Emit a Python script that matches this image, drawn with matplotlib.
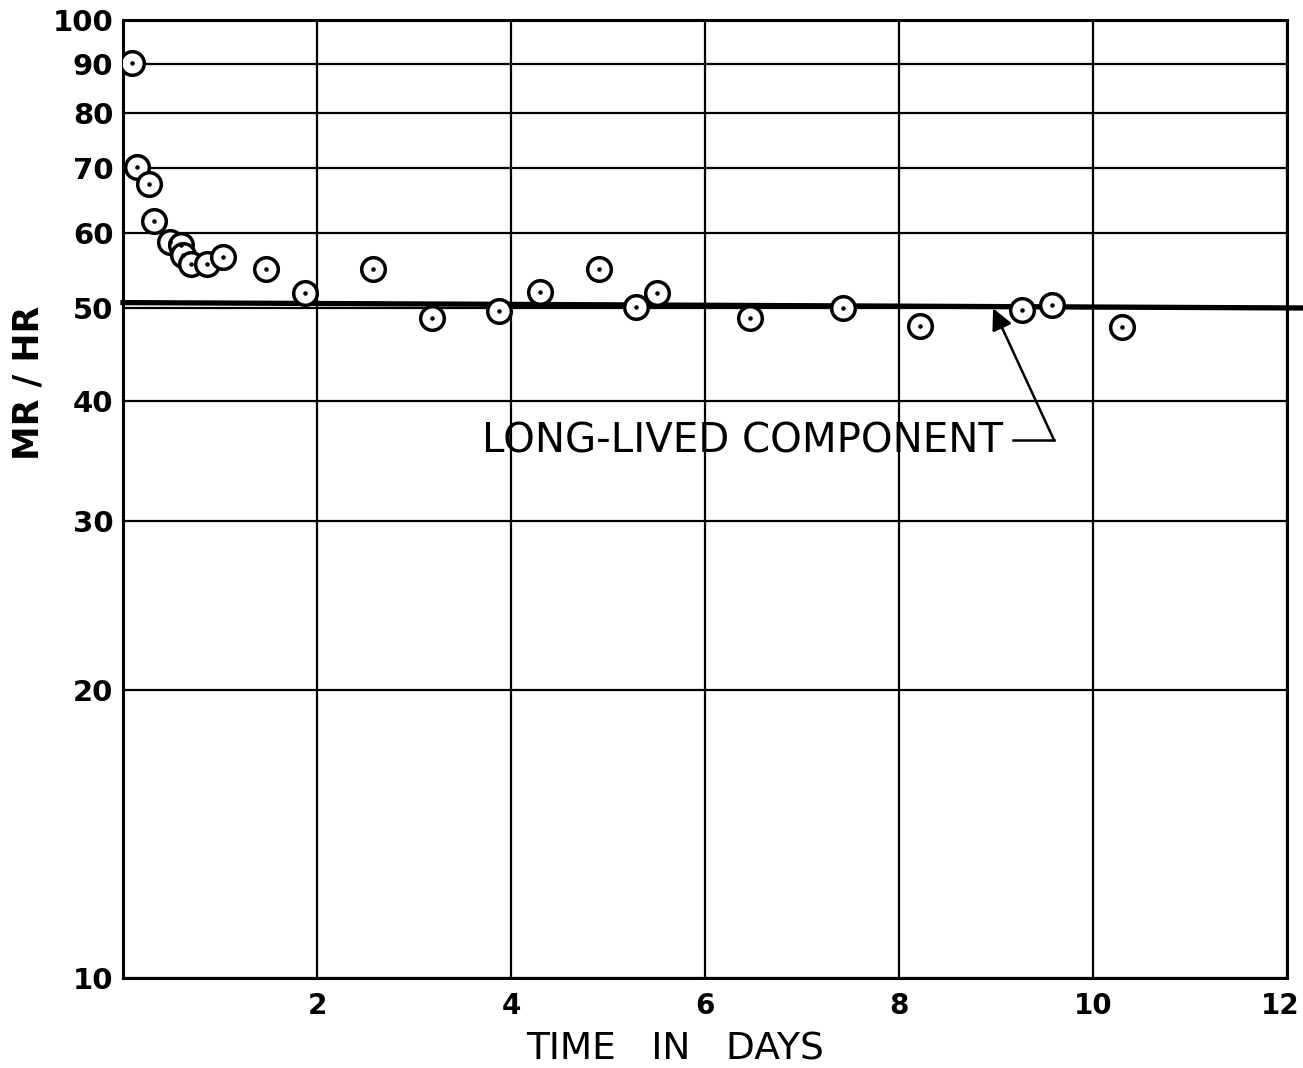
import numpy as np
import matplotlib
matplotlib.use("Agg")
import matplotlib.pyplot as plt
from matplotlib.ticker import FixedLocator, NullLocator
from matplotlib.transforms import ScaledTranslation

days = [0.09, 0.14, 0.27, 0.32, 0.48, 0.60, 0.62, 0.70, 0.87, 1.03,
        1.47, 1.88, 2.58, 3.19, 3.88, 4.30, 4.91, 5.29, 5.50, 6.46,
        7.42, 8.22, 9.27, 9.58, 10.30]
mr_hr = [90.1, 70.3, 67.5, 61.7, 58.7, 58.2, 56.8, 55.6, 55.6, 56.6,
         54.9, 51.9, 54.9, 48.8, 49.7, 52.0, 55.0, 50.2, 51.9, 48.8,
         50.0, 47.9, 49.8, 50.4, 47.8]

# long-lived component (hand drawn straight line)
line_days = [0.0, 12.15]
line_mr_hr = [50.7, 50.05]

xticks = [2, 4, 6, 8, 10, 12]
yticks = [10, 20, 30, 40, 50, 60, 70, 80, 90, 100]

W, H = 1303, 1068
fig = plt.figure(figsize=(W / 100, H / 100), dpi=100)
ax = fig.add_axes([123 / W, 1 - 978 / H, 1164 / W, 958 / H])

ax.set_yscale('log')
ax.set_xlim(0, 12)
ax.set_ylim(10, 100)

ax.xaxis.set_major_locator(FixedLocator(xticks))
ax.xaxis.set_minor_locator(NullLocator())
ax.yaxis.set_major_locator(FixedLocator(yticks))
ax.yaxis.set_minor_locator(NullLocator())
ax.set_xticklabels([str(t) for t in xticks])
ax.set_yticklabels([str(t) for t in yticks])
ax.tick_params(axis='both', length=0)
ax.tick_params(axis='y', pad=7, labelsize=21)
ax.tick_params(axis='x', pad=10, labelsize=20)
for lab in ax.get_xticklabels() + ax.get_yticklabels():
    lab.set_fontweight('bold')
# last x label sits a bit inside the frame in the original
last = ax.get_xticklabels()[-1]
last.set_transform(last.get_transform() + ScaledTranslation(-7 / 100, 0, fig.dpi_scale_trans))

ax.grid(True, color='black', linewidth=1.6)
for sp in ax.spines.values():
    sp.set_linewidth(2.2)

ax.plot(line_days, line_mr_hr, color='black', linewidth=3.8, clip_on=False, zorder=3)

ax.plot(days, mr_hr, linestyle='none', marker='o', markersize=17,
        markerfacecolor='white', markeredgecolor='black', markeredgewidth=2.5, zorder=4)
ax.plot(days, mr_hr, linestyle='none', marker='.', markersize=4.5,
        color='black', zorder=5)

# label with leader and arrow
ax.text(9.07, 36.3, 'LONG-LIVED COMPONENT', ha='right', va='center',
        fontsize=29)
ax.plot([9.18, 9.60], [36.4, 36.4], color='black', linewidth=1.8)
ax.annotate('', xy=(8.97, 50.0), xytext=(9.60, 36.4),
            arrowprops=dict(arrowstyle='-|>', color='black', lw=1.8,
                            mutation_scale=32, shrinkA=0, shrinkB=0))

ax.set_xlabel('TIME   IN   DAYS', fontsize=27)
ax.xaxis.label.set_va('baseline')
ax.xaxis.set_label_coords((675 - 123) / 1164, (978 - 1059) / 958)
ax.set_ylabel('MR / HR', fontsize=25, fontweight='bold')
ax.yaxis.set_label_coords((46 - 123) / 1164, (978 - 383) / 958)

fig.savefig('out.png', dpi=100)
